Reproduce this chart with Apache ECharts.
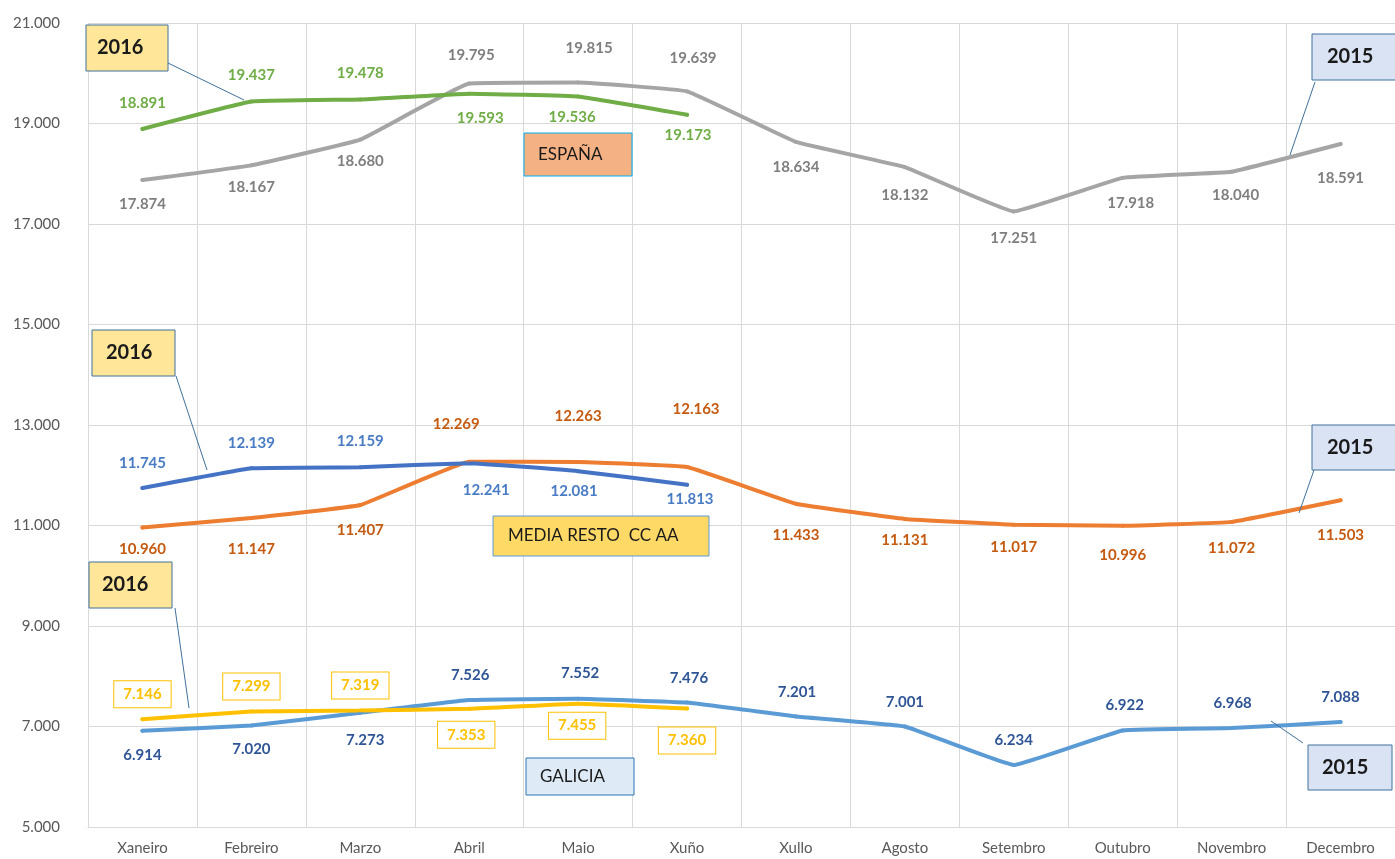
<!DOCTYPE html>
<html>
<head>
<meta charset="utf-8">
<script src="https://cdn.jsdelivr.net/npm/echarts@6/dist/echarts.min.js"></script>
<style>
  html, body { margin: 0; padding: 0; background: #fff; }
  #chart { width: 1395px; height: 859px; }
</style>
</head>
<body>
<div id="chart"></div>
<script>
const months = ['Xaneiro', 'Febreiro', 'Marzo', 'Abril', 'Maio', 'Xuño', 'Xullo', 'Agosto', 'Setembro', 'Outubro', 'Novembro', 'Decembro']

const espana2015 = [17874, 18167, 18680, 19795, 19815, 19639, 18634, 18132, 17251, 17918, 18040, 18591]
const espana2016 = [18891, 19437, 19478, 19593, 19536, 19173]
const resto2015 = [10960, 11147, 11407, 12269, 12263, 12163, 11433, 11131, 11017, 10996, 11072, 11503]
const resto2016 = [11745, 12139, 12159, 12241, 12081, 11813]
const galicia2015 = [6914, 7020, 7273, 7526, 7552, 7476, 7201, 7001, 6234, 6922, 6968, 7088]
const galicia2016 = [7146, 7299, 7319, 7353, 7455, 7360]

// label offsets [dx, dy] from each point
const offEsp15 = [[0,24],[0,22],[0,22],[2,-28],[11,-34],[6,-33],[0,25],[0,28],[0,27],[8,25],[4,23],[0,34]]
const offEsp16 = [[0,-26],[0,-26],[0,-26],[11,24],[-6,21],[1,20]]
const offRes15 = [[0,22],[0,31],[0,25],[-13,-38],[0,-46],[9,-58],[0,31],[0,21],[0,23],[0,29],[0,26],[0,35]]
const offRes16 = [[0,-25],[0,-25],[0,-26],[17,27],[-4,20],[3,15]]
const offGal15 = [[0,24],[0,24],[5,27],[1,-25],[2,-26],[2,-24],[1,-24],[0,-24],[0,-25],[2,-25],[1,-25],[0,-25]]
const offGal16 = [[0,-25],[0,-25],[0,-25],[-3,26],[-1,22],[0,32]]

const fmt = v => {
  const s = String(Math.round(v))
  return s.replace(/\B(?=(\d{3})+(?!\d))/g, '.')
}

const FONT = 'Lato, "Open Sans", sans-serif'

function withLabels(values, offsets) {
  return values.map((v, i) => ({ value: v, label: { offset: offsets[i] } }))
}

function lineSeries(name, values, offsets, color, labelColor, extraLabel) {
  return {
    name: name,
    type: 'line',
    smooth: 0.08,
    symbol: 'circle',
    symbolSize: 4,
    showSymbol: true,
    itemStyle: { color: color },
    lineStyle: { color: color, width: 4, cap: 'round' },
    label: Object.assign({
      show: true,
      position: 'inside',
      color: labelColor,
      fontFamily: FONT,
      fontSize: 15,
      fontWeight: 'bold',
      formatter: p => fmt(p.value)
    }, extraLabel || {}),
    emphasis: { disabled: true },
    data: withLabels(values, offsets)
  }
}

function box(x, y, w, h, fill, stroke, text, fontSize, bold, tx) {
  return [
    { type: 'rect', shape: { x: x, y: y, width: w, height: h }, style: { fill: fill, stroke: stroke, lineWidth: 1 }, z: 100 },
    { type: 'text', x: x + tx, y: y + h / 2, style: { text: text, fill: '#1a1a1a', font: (bold ? 'bold ' : '') + fontSize + 'px ' + FONT, textVerticalAlign: 'middle' }, z: 101 }
  ]
}

function leader(x1, y1, x2, y2) {
  return { type: 'line', shape: { x1: x1, y1: y1, x2: x2, y2: y2 }, style: { stroke: '#41719c', lineWidth: 1 }, z: 99 }
}

const chart = echarts.init(document.getElementById('chart'))

const option = {
  animation: false,
  backgroundColor: '#fff',
  textStyle: { fontFamily: FONT },
  grid: { left: 88, right: -8, top: 23, bottom: 32 },
  xAxis: {
    type: 'category',
    data: months,
    boundaryGap: true,
    axisLine: { show: true, lineStyle: { color: '#d9d9d9', width: 1 } },
    axisTick: { show: false },
    splitLine: { show: true, lineStyle: { color: '#d9d9d9', width: 1 } },
    axisLabel: { color: '#595959', fontSize: 15, margin: 14, fontFamily: FONT, interval: 0 }
  },
  yAxis: {
    type: 'value',
    min: 5000,
    max: 21000,
    interval: 2000,
    axisLine: { show: false },
    axisTick: { show: false },
    splitLine: { lineStyle: { color: '#d9d9d9', width: 1 } },
    axisLabel: { color: '#595959', fontSize: 15, margin: 28, fontFamily: FONT, formatter: v => fmt(v) }
  },
  series: [
    lineSeries('España 2015', espana2015, offEsp15, '#a5a5a5', '#7f7f7f'),
    lineSeries('España 2016', espana2016, offEsp16, '#70ad47', '#70ad47'),
    lineSeries('Media resto 2015', resto2015, offRes15, '#ed7d31', '#c55a11'),
    lineSeries('Media resto 2016', resto2016, offRes16, '#4472c4', '#4a7cc4'),
    lineSeries('Galicia 2015', galicia2015, offGal15, '#5b9bd5', '#2f5597'),
    lineSeries('Galicia 2016', galicia2016, offGal16, '#ffc000', '#ffc000', {
      backgroundColor: '#fff',
      borderColor: '#ffc000',
      borderWidth: 1,
      padding: [6, 9, 5, 9]
    })
  ],
  graphic: [].concat(
    box(86, 25, 82, 46, '#ffe699', '#41719c', '2016', 20, true, 11),
    [leader(168, 63, 244, 100)],
    box(1312, 34, 90, 46, '#dae3f3', '#41719c', '2015', 20, true, 15),
    [leader(1315, 82, 1290, 155)],
    box(524, 133, 108, 43, '#f4b183', '#00b0f0', 'ESPAÑA', 17, false, 14),
    box(92, 330, 83, 46, '#ffe699', '#41719c', '2016', 20, true, 14),
    [leader(176, 376, 207, 470)],
    box(1312, 425, 90, 45, '#dae3f3', '#41719c', '2015', 20, true, 15),
    [leader(1314, 470, 1299, 513)],
    box(493, 516, 216, 40, '#ffd966', '#5b9bd5', 'MEDIA RESTO  CC AA', 17, false, 15),
    box(89, 562, 83, 46, '#ffe699', '#41719c', '2016', 20, true, 13),
    [leader(175, 608, 189, 708)],
    box(526, 758, 108, 37, '#deebf7', '#2e75b6', 'GALICIA', 17, false, 14),
    box(1308, 745, 84, 45, '#dae3f3', '#41719c', '2015', 20, true, 14),
    [leader(1303, 743, 1271, 721)]
  )
}

chart.setOption(option)
</script>
</body>
</html>
